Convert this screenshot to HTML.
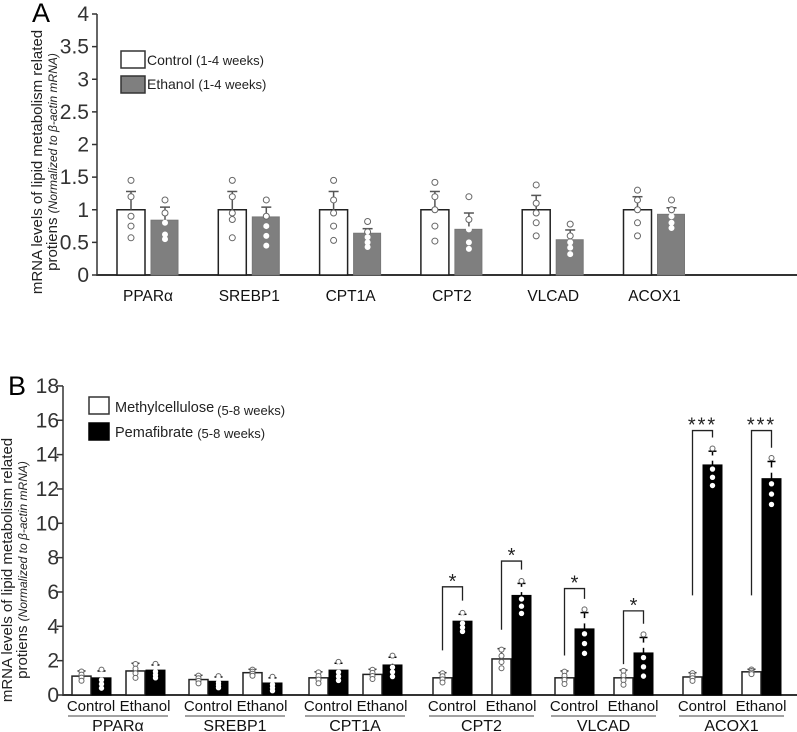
<!DOCTYPE html>
<html><head><meta charset="utf-8"><style>
body{margin:0;background:#fff;}
svg{display:block;font-family:"Liberation Sans",Arial,sans-serif;}
</style></head><body>
<svg id="c" width="797" height="732" viewBox="0 0 797 732"></svg>
<script>
// Panel A data
const genesA = ["PPARα","SREBP1","CPT1A","CPT2","VLCAD","ACOX1"];
const ctrlA = [1,1,1,1,1,1];
const ctrlErrA = [0.28,0.28,0.28,0.28,0.22,0.2];
const ethA = [0.84,0.89,0.64,0.70,0.54,0.93];
const ethErrA = [0.2,0.15,0.07,0.25,0.15,0.1];
const ctrlPtsA = [[1.45,1.2,0.9,0.75,0.57],[1.45,1.2,0.95,0.85,0.57],[1.45,1.15,0.95,0.75,0.53],[1.42,1.2,1.0,0.75,0.52],[1.38,1.1,0.95,0.8,0.6],[1.3,1.15,1.0,0.8,0.6]];
const ethPtsA = [[1.15,0.95,0.8,0.62,0.55],[1.15,0.9,0.75,0.6,0.45],[0.82,0.66,0.58,0.5,0.43],[1.2,0.85,0.7,0.5,0.4],[0.78,0.6,0.5,0.42,0.32],[1.15,1.0,0.9,0.8,0.72]];
const ticksA = ["0","0.5","1","1.5","2","2.5","3","3.5","4"];
// Panel B data
const genesB = ["PPARα","SREBP1","CPT1A","CPT2","VLCAD","ACOX1"];
const subB = ["Control","Ethanol"];
const methB = [1.1,1.4, 0.9,1.3, 1.0,1.2, 1.0,2.1, 1.0,1.0, 1.05,1.35];
const methErrB = [0.3,0.45, 0.25,0.2, 0.35,0.3, 0.3,0.6, 0.4,0.45, 0.25,0.15];
const pemaB = [1.0,1.45, 0.8,0.7, 1.45,1.75, 4.3,5.8, 3.85,2.45, 13.4,12.6];
const pemaErrB = [0.4,0.3, 0.25,0.3, 0.4,0.45, 0.4,0.7, 0.95,0.9, 0.8,1.0];
const sigB = ["","", "","", "","", "*","*", "*","*", "***","***"];
const sigTopB = [0,0, 0,0, 0,0, 6.3,7.8, 6.2,4.9, 15.4,15.4];
const sigLeftB = [0,0, 0,0, 0,0, 2.6,3.8, 2.3,1.8, 5.8,5.8];
const ticksB = ["0","2","4","6","8","10","12","14","16","18"];

const NS="http://www.w3.org/2000/svg";
const svg=document.getElementById('c');
function mk(tag,attrs,parent){const e=document.createElementNS(NS,tag);for(const k in attrs)e.setAttribute(k,attrs[k]);(parent||svg).appendChild(e);return e;}
function txt(s,attrs){const e=mk('text',attrs);e.textContent=s;return e;}

// ===== Panel A =====
const A={x0:97,y0:275,ppu:65.25};
const yA=v=>A.y0-v*A.ppu;
let t=txt("A",{x:32,y:22,'font-size':27});


let ax=mk('line',{x1:A.x0,y1:yA(4),x2:A.x0,y2:A.y0+1,stroke:'#333','stroke-width':1.5});


ax=mk('line',{x1:A.x0,y1:A.y0,x2:797,y2:A.y0,stroke:'#333','stroke-width':2});


ticksA.forEach((s,i)=>{const v=parseFloat(s);
  const l=mk('line',{x1:A.x0-5,y1:yA(v),x2:A.x0,y2:yA(v),stroke:'#333','stroke-width':1.5});
  
  
  const e=txt(s,{x:A.x0-8,y:yA(v)+7,'font-size':21,'text-anchor':'end',fill:'#333'});
  
  
});
const g=mk('text',{transform:'translate(42,162) rotate(-90)','text-anchor':'middle','font-size':15,fill:'#222'});


g.innerHTML='<tspan x="0" dy="0">mRNA levels of lipid metabolism related</tspan><tspan x="0" dy="15">protiens <tspan font-style="italic" font-size="12">(Normalized to β-actin mRNA)</tspan></tspan>';
function dots(cx,pts,y,fill,stroke,r){pts.forEach(p=>{const c=mk('circle',{cx:cx,cy:y(p),r:r,fill:fill,stroke:stroke,'stroke-width':1});
  
  });}
function errbar(cx,v,e,y,w,col){const l=mk('line',{x1:cx,y1:y(v),x2:cx,y2:y(v+e),stroke:col,'stroke-width':1.5});
  
  
  const c=mk('line',{x1:cx-w,y1:y(v+e),x2:cx+w,y2:y(v+e),stroke:col,'stroke-width':1.5});
  
  }
genesA.forEach((gname,i)=>{
  const base=117+i*101.3;
  const bw=28;
  let r=mk('rect',{x:base,y:yA(ctrlA[i]),width:bw,height:A.y0-yA(ctrlA[i]),fill:'#fff',stroke:'#222','stroke-width':1.5});
  
  
  errbar(base+bw/2,ctrlA[i],ctrlErrA[i],yA,5,'#555');
  dots(base+bw/2,ctrlPtsA[i],yA,'#fff','#666',3);
  const ex=base+34;
  r=mk('rect',{x:ex,y:yA(ethA[i]),width:bw-1,height:A.y0-yA(ethA[i]),fill:'#7f7f7f',stroke:'#777','stroke-width':1});
  
  
  errbar(ex+bw/2,ethA[i],ethErrA[i],yA,5,'#555');
  ethPtsA[i].forEach(p=>{
    const above=p>ethA[i];
    const c=mk('circle',{cx:ex+bw/2,cy:yA(p),r:above?3:2.5,fill:'#fff',stroke:above?'#666':'#fff','stroke-width':1});
    
    
  });
  const e=txt(gname,{x:base+31,y:301,'font-size':15.5,'text-anchor':'middle',fill:'#111'});
  
  
});
let r=mk('rect',{x:121,y:51,width:24,height:17,fill:'#fff',stroke:'#333','stroke-width':1.5});


r=mk('rect',{x:121,y:76,width:24,height:17,fill:'#7f7f7f',stroke:'#333','stroke-width':1.5});


t=mk('text',{x:147,y:65,'font-size':14,fill:'#222'});t.innerHTML='Control <tspan font-size="13">(1-4 weeks)</tspan>';


t=mk('text',{x:147,y:89,'font-size':14,fill:'#222'});t.innerHTML='Ethanol <tspan font-size="13">(1-4 weeks)</tspan>';



// ===== Panel B =====
const B={x0:63,y0:695,ppu:17.17};
const yB=v=>B.y0-v*B.ppu;
t=txt("B",{x:8,y:395,'font-size':27});


ax=mk('line',{x1:B.x0,y1:yB(18),x2:B.x0,y2:B.y0+1,stroke:'#333','stroke-width':1.5});


ax=mk('line',{x1:B.x0,y1:B.y0,x2:797,y2:B.y0,stroke:'#333','stroke-width':2});


ticksB.forEach(s=>{const v=parseFloat(s);
  const l=mk('line',{x1:B.x0-6,y1:yB(v),x2:B.x0,y2:yB(v),stroke:'#333','stroke-width':1.5});
  
  
  const e=txt(s,{x:B.x0-4,y:yB(v)+7,'font-size':21,'text-anchor':'end',fill:'#333'});
  
  
});
const g2=mk('text',{transform:'translate(12,570) rotate(-90)','text-anchor':'middle','font-size':15,fill:'#222'});


g2.innerHTML='<tspan x="0" dy="0">mRNA levels of lipid metabolism related</tspan><tspan x="0" dy="15">protiens <tspan font-style="italic" font-size="12">(Normalized to β-actin mRNA)</tspan></tspan>';
genesB.forEach((gname,gi)=>{
  const gx=[72,189,309,433,555,683][gi];
  [0,1].forEach(si=>{
    const k=gi*2+si;
    const bx=gx+ (gi<3?si*54:si*59);
    const bw=19;
    let r=mk('rect',{x:bx,y:yB(methB[k]),width:bw,height:B.y0-yB(methB[k]),fill:'#fff',stroke:'#222','stroke-width':1.5});
    
    
    errbar(bx+bw/2,methB[k],methErrB[k],yB,4,'#333');
    const mpts=[methB[k]+methErrB[k]*0.9,methB[k]+methErrB[k]*0.3,methB[k]-methErrB[k]*0.3,methB[k]-methErrB[k]*0.9];
    dots(bx+bw/2,mpts,yB,'#fff','#666',2.5);
    const px=bx+bw+1;
    r=mk('rect',{x:px,y:yB(pemaB[k]),width:bw,height:B.y0-yB(pemaB[k]),fill:'#000',stroke:'#000','stroke-width':1});
    
    
    errbar(px+bw/2,pemaB[k],pemaErrB[k],yB,4,'#000');
    const top=mk('circle',{cx:px+bw/2,cy:yB(pemaB[k]+pemaErrB[k]*1.2),r:2.5,fill:'#fff',stroke:'#666','stroke-width':1});
    
    
    const ppts=[pemaB[k]+pemaErrB[k]*0.5,pemaB[k]-pemaErrB[k]*0.3,pemaB[k]-pemaErrB[k]*0.9,pemaB[k]-pemaErrB[k]*1.5];
    dots(px+bw/2,ppts.filter(p=>p>0.2),yB,'#fff','#fff',2.2);
    const e=txt(subB[si],{x:bx+bw,y:711,'font-size':15,'text-anchor':'middle',fill:'#111'});
    
    
    if(sigB[k]){
      const lx=bx+bw/2, rx=px+bw/2;
      const p=mk('polyline',{points:`${lx},${yB(sigLeftB[k])} ${lx},${yB(sigTopB[k])} ${rx},${yB(sigTopB[k])} ${rx},${yB(pemaB[k]+pemaErrB[k]+0.8)}`,fill:'none',stroke:'#222','stroke-width':1.3});
      
      
      const s=txt(sigB[k],{x:(lx+rx)/2,y:yB(sigTopB[k])+1,'font-size':20,'text-anchor':'middle','letter-spacing':sigB[k].length>1?2:0,fill:'#222'});
      
      
    }
  });
  const span=gi<3?54:59;
  const ul=mk('line',{x1:gx-4,y1:716,x2:gx+span+38+4,y2:716,stroke:'#444','stroke-width':1});
  
  
  const e=txt(gname,{x:gx+(span+38)/2,y:731,'font-size':16,'text-anchor':'middle',fill:'#111'});
  
  
});
r=mk('rect',{x:89,y:397,width:20,height:17,fill:'#fff',stroke:'#333','stroke-width':1.5});


r=mk('rect',{x:89,y:423,width:20,height:17,fill:'#000',stroke:'#000','stroke-width':1.5});


t=mk('text',{x:115,y:412,'font-size':14.5,fill:'#222'});t.innerHTML='Methylcellulose<tspan font-size="13" dx="3" dy="3">(5-8 weeks)</tspan>';


t=mk('text',{x:115,y:437,'font-size':14.5,fill:'#222'});t.innerHTML='Pemafibrate <tspan font-size="13" dy="1">(5-8 weeks)</tspan>';


</script>
</body></html>
